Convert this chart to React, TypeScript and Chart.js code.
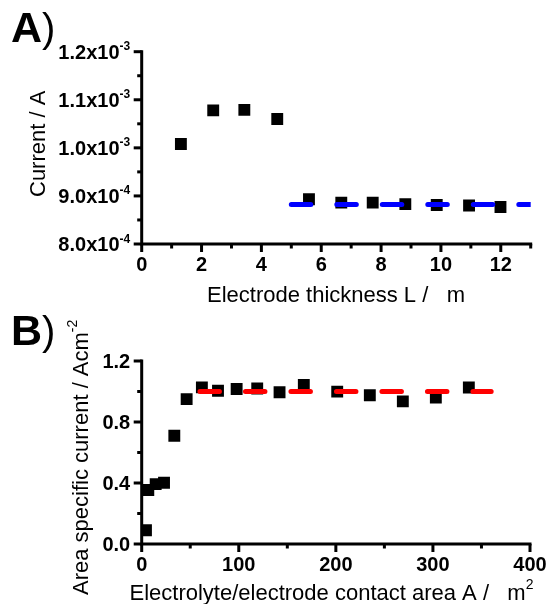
import React, { useEffect, useRef } from "react";
import { Chart, registerables } from "chart.js";
Chart.register(...registerables);

// ---------- Panel A data ----------
const thicknessL = [1.31, 2.39, 3.43, 4.53, 5.59, 6.67, 7.72, 8.81, 9.86, 10.94, 11.99];
const currentA = [1.008e-3, 1.078e-3, 1.079e-3, 1.06e-3, 8.93e-4, 8.86e-4, 8.86e-4, 8.83e-4, 8.81e-4, 8.8e-4, 8.77e-4];
const fitAX = [5, 13];
const fitAY = [8.82e-4, 8.82e-4];
const aXMajor = [0, 2, 4, 6, 8, 10, 12];
const aXMinor = [1, 3, 5, 7, 9, 11, 13];
const aXLabels = ["0", "2", "4", "6", "8", "10", "12"];
const aYMajor = [8.0e-4, 9.0e-4, 1.0e-3, 1.1e-3, 1.2e-3];
const aYMinor = [8.5e-4, 9.5e-4, 1.05e-3, 1.15e-3];
const aYLabelBase = ["8.0x10", "9.0x10", "1.0x10", "1.1x10", "1.2x10"];
const aYLabelExp = ["-4", "-4", "-3", "-3", "-3"];

// ---------- Panel B data ----------
const contactArea = [4.4, 6.8, 14.4, 23, 33.6, 46.3, 62, 78.6, 97.8, 119, 142, 167, 201.4, 235, 269, 303, 337];
const areaCurrent = [0.09, 0.354, 0.393, 0.402, 0.71, 0.95, 1.027, 1.005, 1.016, 1.02, 0.995, 1.043, 0.999, 0.975, 0.935, 0.96, 1.026];
const fitBX = [60, 360];
const fitBY = [1.0, 1.0];
const bXMajor = [0, 100, 200, 300, 400];
const bXMinor = [50, 150, 250, 350];
const bXLabels = ["0", "100", "200", "300", "400"];
const bYMajor = [0, 0.4, 0.8, 1.2];
const bYMinor = [0.2, 0.6, 1.0];
const bYLabels = ["0.0", "0.4", "0.8", "1.2"];

const FAMILY = '"Liberation Sans", Arial, Helvetica, sans-serif';

type Part = { text: string; size: number; weight?: string; dy?: number };
const fontOf = (p: Part) => `${p.weight || "normal"} ${p.size}px ${FAMILY}`;

function richWidth(ctx: CanvasRenderingContext2D, parts: Part[]) {
  let w = 0;
  for (const p of parts) {
    ctx.font = fontOf(p);
    w += ctx.measureText(p.text).width;
  }
  return w;
}

function drawRich(ctx: CanvasRenderingContext2D, parts: Part[], x: number, y: number, align: "left" | "center" | "right") {
  const w = richWidth(ctx, parts);
  let cx = align === "left" ? x : align === "center" ? x - w / 2 : x - w;
  ctx.textAlign = "left";
  ctx.textBaseline = "alphabetic";
  for (const p of parts) {
    ctx.font = fontOf(p);
    ctx.fillText(p.text, cx, y + (p.dy || 0));
    cx += ctx.measureText(p.text).width;
  }
}

interface PanelCfg {
  height: number;
  top: number;
  padTop: number;
  padRight: number;
  yWidth: number;
  xHeight: number;
  xMin: number;
  xMax: number;
  yMin: number;
  yMax: number;
  xs: number[];
  ys: number[];
  fitX: number[];
  fitY: number[];
  fitColor: string;
  xMajor: number[];
  xMinor: number[];
  xLabels: string[];
  yMajor: number[];
  yMinor: number[];
  yLabels: Part[][];
  xTitle: Part[];
  xTitleX: number;
  xTitleY: number;
  xTitleAlign: "left" | "center" | "right";
  yTitle: Part[];
  yTitleX: number;
  yTitleY: number;
  letter: string;
  letterY: number;
}

const TICK: Part = { text: "", size: 20, weight: "bold" };

const panelA: PanelCfg = {
  height: 310,
  top: 0,
  padTop: 51.7,
  padRight: 548 - 530.7,
  yWidth: 141.7,
  xHeight: 310 - 244,
  xMin: 0,
  xMax: 13,
  yMin: 8e-4,
  yMax: 1.2e-3,
  xs: thicknessL,
  ys: currentA,
  fitX: fitAX,
  fitY: fitAY,
  fitColor: "#0000ff",
  xMajor: aXMajor,
  xMinor: aXMinor,
  xLabels: aXLabels,
  yMajor: aYMajor,
  yMinor: aYMinor,
  yLabels: aYLabelBase.map((b, i) => [
    { ...TICK, text: b },
    { text: aYLabelExp[i], size: 12, weight: "bold", dy: -8.5 },
  ]),
  xTitle: [{ text: "Electrode thickness L /   m", size: 22 }],
  xTitleX: 336,
  xTitleY: 302,
  xTitleAlign: "center",
  yTitle: [{ text: "Current / A", size: 22 }],
  yTitleX: 45,
  yTitleY: 197,
  letter: "A",
  letterY: 42,
};

const panelB: PanelCfg = {
  height: 294,
  top: 310,
  padTop: 51,
  padRight: 548 - 530,
  yWidth: 141.7,
  xHeight: 294 - 234,
  xMin: 0,
  xMax: 400,
  yMin: 0,
  yMax: 1.2,
  xs: contactArea,
  ys: areaCurrent,
  fitX: fitBX,
  fitY: fitBY,
  fitColor: "#ff0000",
  xMajor: bXMajor,
  xMinor: bXMinor,
  xLabels: bXLabels,
  yMajor: bYMajor,
  yMinor: bYMinor,
  yLabels: bYLabels.map((b) => [{ ...TICK, text: b }]),
  xTitle: [
    { text: "Electrolyte/electrode contact area A /   m", size: 22 },
    { text: "2", size: 14, dy: -11 },
  ],
  xTitleX: 129.5,
  xTitleY: 290,
  xTitleAlign: "left",
  yTitle: [
    { text: "Area specific current / Acm", size: 22 },
    { text: "-2", size: 14, dy: -11 },
  ],
  yTitleX: 87.5,
  yTitleY: 285,
  letter: "B",
  letterY: 35,
};

function Panel({ cfg }: { cfg: PanelCfg }) {
  const ref = useRef<HTMLCanvasElement>(null);
  useEffect(() => {
    if (!ref.current) return;
    const decor = {
      id: "decor",
      afterDraw(chart: any) {
        const ctx: CanvasRenderingContext2D = chart.ctx;
        const ca = chart.chartArea;
        const xs = chart.scales.x;
        const ys = chart.scales.y;
        ctx.save();
        ctx.strokeStyle = "#000";
        ctx.fillStyle = "#000";
        // axes
        ctx.lineWidth = 3;
        ctx.lineCap = "square";
        ctx.beginPath();
        ctx.moveTo(ca.left, ca.top);
        ctx.lineTo(ca.left, ca.bottom);
        ctx.lineTo(ca.right, ca.bottom);
        ctx.stroke();
        // ticks
        ctx.lineCap = "butt";
        ctx.lineWidth = 3;
        const xt = (v: number, len: number) => {
          const p = xs.getPixelForValue(v);
          ctx.beginPath();
          ctx.moveTo(p, ca.bottom);
          ctx.lineTo(p, ca.bottom + len);
          ctx.stroke();
        };
        const yt = (v: number, len: number) => {
          const p = ys.getPixelForValue(v);
          ctx.beginPath();
          ctx.moveTo(ca.left, p);
          ctx.lineTo(ca.left - len, p);
          ctx.stroke();
        };
        cfg.xMajor.forEach((v) => xt(v, 8));
        cfg.xMinor.forEach((v) => xt(v, 4.5));
        cfg.yMajor.forEach((v) => yt(v, 8));
        cfg.yMinor.forEach((v) => yt(v, 4.5));
        // tick labels
        cfg.xMajor.forEach((v, i) => {
          drawRich(ctx, [{ ...TICK, text: cfg.xLabels[i] }], xs.getPixelForValue(v), ca.bottom + 27, "center");
        });
        cfg.yMajor.forEach((v, i) => {
          drawRich(ctx, cfg.yLabels[i], ca.left - 11.5, ys.getPixelForValue(v) + 7, "right");
        });
        // axis titles
        drawRich(ctx, cfg.xTitle, cfg.xTitleX, cfg.xTitleY, cfg.xTitleAlign);
        ctx.save();
        ctx.translate(cfg.yTitleX, cfg.yTitleY);
        ctx.rotate(-Math.PI / 2);
        drawRich(ctx, cfg.yTitle, 0, 0, "left");
        ctx.restore();
        // panel letter
        drawRich(
          ctx,
          [
            { text: cfg.letter, size: 43, weight: "bold" },
            { text: ")", size: 40 },
          ],
          11,
          cfg.letterY,
          "left"
        );
        ctx.restore();
      },
    };
    const chart = new Chart(ref.current, {
      type: "scatter",
      data: {
        datasets: [
          {
            data: cfg.fitX.map((x, i) => ({ x, y: cfg.fitY[i] })),
            showLine: true,
            borderColor: cfg.fitColor,
            backgroundColor: cfg.fitColor,
            borderWidth: 5,
            borderDash: [19.5, 26],
            borderCapStyle: "round",
            pointRadius: 0,
            fill: false,
          } as any,
          {
            data: cfg.xs.map((x, i) => ({ x, y: cfg.ys[i] })),
            pointStyle: "rect",
            pointRadius: 8.4,
            backgroundColor: "#000",
            borderColor: "#000",
            borderWidth: 0,
            showLine: false,
          } as any,
        ],
      },
      options: {
        responsive: false,
        maintainAspectRatio: false,
        animation: false,
        events: [],
        layout: { padding: { top: cfg.padTop, right: cfg.padRight, left: 0, bottom: 0 } },
        plugins: { legend: { display: false }, tooltip: { enabled: false } },
        scales: {
          x: {
            type: "linear",
            min: cfg.xMin,
            max: cfg.xMax,
            ticks: { display: false },
            grid: { display: false },
            border: { display: false },
            afterFit: (s: any) => {
              s.height = cfg.xHeight;
            },
          },
          y: {
            type: "linear",
            min: cfg.yMin,
            max: cfg.yMax,
            ticks: { display: false },
            grid: { display: false },
            border: { display: false },
            afterFit: (s: any) => {
              s.width = cfg.yWidth;
            },
          },
        },
      } as any,
      plugins: [decor],
    });
    return () => chart.destroy();
  }, [cfg]);
  return (
    <canvas
      ref={ref}
      width={548}
      height={cfg.height}
      style={{ position: "absolute", left: 0, top: cfg.top, width: 548, height: cfg.height, display: "block" }}
    />
  );
}

export default function App() {
  return (
    <div style={{ position: "absolute", left: 0, top: 0, width: 548, height: 604, background: "#fff" }}>
      <Panel cfg={panelA} />
      <Panel cfg={panelB} />
    </div>
  );
}
